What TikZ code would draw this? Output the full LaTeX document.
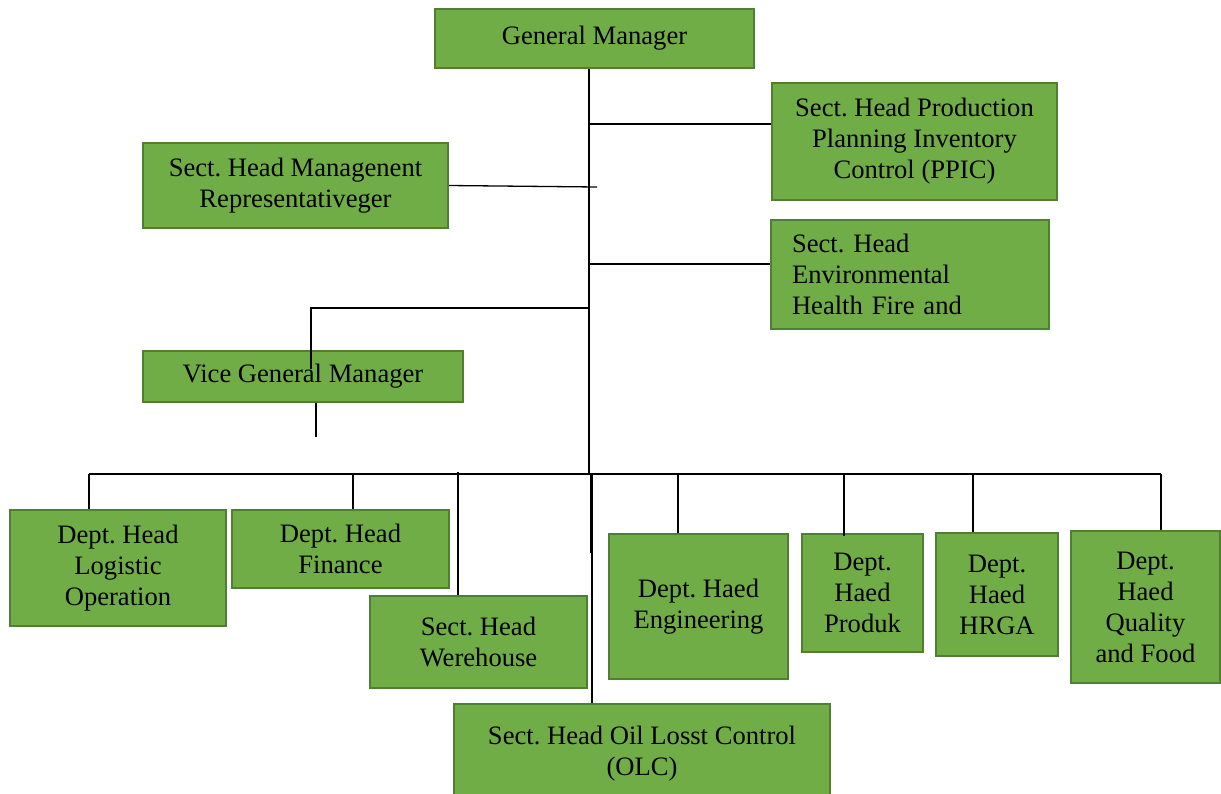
\documentclass[tikz,border=0pt]{standalone}
\usepackage{fontspec}
\setmainfont{Liberation Serif}
\usetikzlibrary{calc}
\definecolor{boxfill}{HTML}{70AD47}
\definecolor{boxline}{HTML}{507E32}
\frenchspacing
\begin{document}
\begin{tikzpicture}[x=1pt,y=-1pt,
  orgbox/.style={draw=boxline, fill=boxfill, line width=2.2pt, inner sep=0pt,
    align=center, text=black, font=\fontsize{26.6}{31}\selectfont\frenchspacing},
  link/.style={draw=black, line width=1.3pt}]
\clip (0,0) rectangle (1221,793);
\fill[white] (0,0) rectangle (1221,793);

% top management
\node[orgbox, minimum width=319pt, minimum height=59pt]  (gm)   at (594.5,38.5) {General Manager};
\node[orgbox, minimum width=285pt, minimum height=117pt] (ppic) at (914.5,141.5) {Sect. Head Production\\Planning Inventory\\Control (PPIC)};
\node[orgbox, minimum width=305pt, minimum height=85pt]  (mr)   at (295.5,185.5) {Sect. Head Managenent\\Representativeger};
\node[orgbox, minimum height=109pt, text width=236pt, inner xsep=21pt, align=left] (env) at (910,274.5) {Sect. Head\\Environmental\\Health Fire and};
\node[orgbox, minimum width=320pt, minimum height=51pt]  (vgm)  at (303,376.5) {Vice General Manager};

% departments and sections
\node[orgbox, minimum width=216pt, minimum height=116pt] (log)  at (118,568)    {Dept. Head\\Logistic\\Operation};
\node[orgbox, minimum width=217pt, minimum height=78pt]  (fin)  at (340.5,549)  {Dept. Head\\Finance};
\node[orgbox, minimum width=217pt, minimum height=92pt]  (wh)   at (478.5,642)  {Sect. Head\\Werehouse};
\node[orgbox, minimum width=179pt, minimum height=145pt] (eng)  at (698.5,606.5) {Dept. Haed\\Engineering};
\node[orgbox, minimum width=121pt, minimum height=118pt] (prod) at (862.5,593)  {Dept.\\Haed\\Produk};
\node[orgbox, minimum width=122pt, minimum height=123pt] (hrga) at (997,594.5)  {Dept.\\Haed\\HRGA};
\node[orgbox, minimum width=149pt, minimum height=152pt] (qf)   at (1145.5,607) {Dept.\\Haed\\Quality\\and Food};
\node[orgbox, minimum width=376pt, minimum height=100pt] (olc)  at (642,754)    {Sect. Head Oil Losst Control\\(OLC)};

% junction points
\coordinate (bus)   at ($(gm.south)+(-5.5,405)$);
\coordinate (jvgm)  at ($(gm.south)+(-5.5,239)$);
\coordinate (cppic) at ($(ppic.north west)+(0,42)$);
\coordinate (cenv)  at ($(env.north west)+(0,45)$);
\coordinate (cvgm)  at ($(vgm.north west)+(169,19)$);
\coordinate (dlog)  at ($(log.north west)+(80,0)$);
\coordinate (dfin)  at ($(fin.north west)+(122,0)$);
\coordinate (dwh)   at ($(wh.north west)+(89,0)$);
\coordinate (deng)  at ($(eng.north west)+(70,0)$);
\coordinate (dprod) at ($(prod.north west)+(43,3)$);
\coordinate (dhrga) at ($(hrga.north west)+(38,0)$);
\coordinate (dqf)   at ($(qf.north west)+(91,0)$);
\coordinate (dolc)  at ($(olc.north west)+(139,0)$);

% trunk and side branches
\draw[link] (gm.south -| bus) -- (bus);
\draw[link] ([xshift=2pt]bus) -- ++(0,79);
\draw[link] (cppic) -- (cppic -| bus);
\draw[link] (mr.east) -- ++(148,1.5);
\draw[link] (cenv) -- (cenv -| bus);
\draw[link] (jvgm) -| (cvgm);
\draw[link] ($(vgm.south)+(13,0)$) -- ++(0,34);

% department bus and drops
\draw[link] (dlog |- bus) -- (dqf |- bus);
\foreach \d in {dlog,dfin,deng,dprod,dhrga,dqf,dolc}
  \draw[link] (\d |- bus) -- (\d);
\draw[link] ($(dwh |- bus)+(0,-2)$) -- (dwh);
\end{tikzpicture}
\end{document}
